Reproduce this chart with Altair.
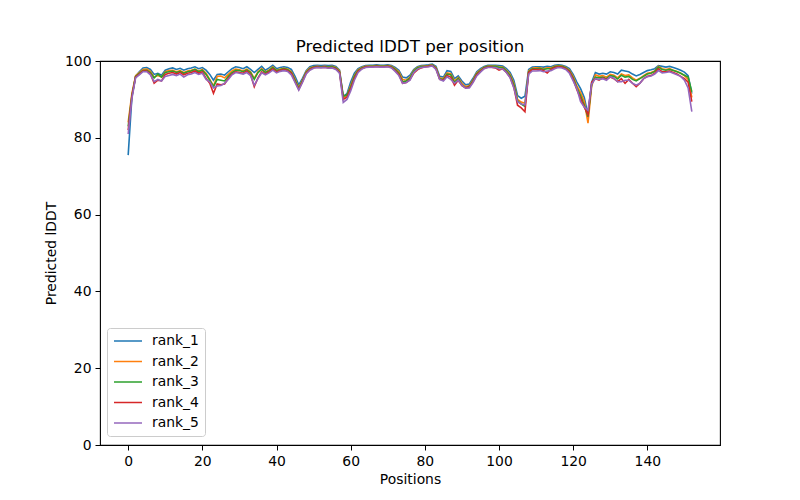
import altair as alt
import pandas as pd

positions = list(range(153))

rank_1 = [75.5, 90.5, 96.0, 97.2, 98.2, 98.3, 97.8, 96.5, 96.8, 96.3,
          97.6, 98.0, 98.2, 97.8, 98.1, 97.6, 98.0, 98.2, 98.5, 98.0,
          98.3, 97.6, 96.5, 95.0, 96.5, 96.6, 96.3, 97.2, 98.0, 98.5,
          98.3, 98.0, 98.5, 97.8, 97.0, 97.8, 98.6, 97.6, 98.2, 98.9,
          98.0, 98.3, 98.5, 98.3, 97.8, 96.0, 93.8, 95.5, 97.5, 98.5,
          98.8, 98.9, 98.8, 98.9, 98.8, 98.9, 98.6, 97.6, 90.8, 91.5,
          94.5, 96.8, 98.0, 98.5, 98.8, 98.9, 98.9, 99.0, 98.9, 98.9,
          99.0, 98.8, 98.3, 97.6, 95.8, 95.6, 96.3, 97.8, 98.5, 98.8,
          98.9, 99.0, 99.2, 98.6, 96.0, 95.8, 97.5, 97.3, 95.4, 96.1,
          94.8, 93.8, 94.0, 95.5, 97.2, 98.0, 98.6, 98.9, 98.9, 98.9,
          98.8, 98.7, 98.0, 97.0, 95.0, 91.0, 90.3, 90.8, 97.8, 98.4,
          98.5, 98.5, 98.4, 98.6, 98.5, 98.9, 99.0, 98.9, 98.6, 98.0,
          96.5, 94.5, 92.8, 90.5, 86.0, 94.5, 97.0, 96.6, 96.8, 96.6,
          97.2, 97.0, 96.6, 97.6, 97.4, 97.2, 96.6, 96.1, 96.5, 97.0,
          97.5, 97.7, 98.0, 98.8, 98.6, 98.4, 98.6, 98.3, 98.0, 97.6,
          97.1, 96.2, 91.5]

rank_2 = [84.0, 91.5, 96.2, 97.0, 97.8, 97.9, 97.3, 95.8, 96.2, 95.8,
          97.2, 97.5, 97.6, 97.2, 97.5, 97.0, 97.4, 97.6, 97.9, 97.4,
          97.8, 96.8, 95.2, 93.5, 96.0, 96.1, 95.6, 96.5, 97.4, 97.9,
          97.7, 97.4, 97.9, 97.2, 95.5, 97.2, 98.0, 97.1, 97.7, 98.5,
          97.6, 97.9, 98.1, 97.9, 97.2, 95.3, 93.0, 95.0, 97.2, 98.2,
          98.5, 98.6, 98.5, 98.6, 98.5, 98.6, 98.3, 97.4, 90.3, 91.0,
          93.6, 96.2, 97.7, 98.3, 98.6, 98.7, 98.7, 98.8, 98.7, 98.7,
          98.8, 98.6, 98.0, 97.2, 95.2, 95.0, 95.8, 97.5, 98.3, 98.6,
          98.7, 98.8, 99.0, 98.3, 95.6, 95.4, 96.9, 96.7, 94.8, 95.7,
          94.2, 93.3, 93.6, 95.1, 96.9, 97.7, 98.4, 98.7, 98.7, 98.7,
          98.5, 98.4, 97.6, 96.5, 94.2, 90.0, 89.3, 89.0, 97.4, 98.1,
          98.2, 98.2, 98.0, 98.2, 98.2, 98.6, 98.8, 98.7, 98.3, 97.6,
          96.0, 93.5, 91.8, 89.5, 83.8, 93.5, 96.4, 96.0, 96.2, 95.8,
          96.5, 96.3, 95.6, 96.6, 96.2, 96.4, 95.6, 95.0, 95.5, 96.2,
          96.8, 97.0, 97.4, 98.6, 98.0, 97.8, 98.0, 97.6, 97.3, 96.8,
          96.2, 95.2, 90.5]

rank_3 = [83.0, 91.0, 96.0, 96.8, 97.5, 97.6, 97.0, 95.6, 96.6, 95.8,
          97.0, 97.2, 97.4, 97.0, 97.3, 96.8, 97.2, 97.4, 97.8, 97.2,
          97.6, 96.5, 95.0, 93.3, 95.2, 95.0, 94.8, 96.0, 97.0, 97.6,
          97.5, 97.2, 97.7, 97.0, 95.2, 97.0, 97.8, 97.0, 97.5, 98.3,
          97.5, 97.7, 98.0, 97.7, 97.0, 95.0, 92.8, 94.8, 97.0, 98.0,
          98.4, 98.5, 98.4, 98.5, 98.4, 98.5, 98.2, 97.2, 90.8, 91.2,
          93.2, 96.0, 97.5, 98.2, 98.5, 98.6, 98.6, 98.7, 98.6, 98.6,
          98.7, 98.5, 97.8, 96.8, 94.6, 94.8, 95.6, 97.3, 98.2, 98.5,
          98.6, 98.7, 98.9, 98.2, 95.4, 95.2, 96.6, 96.4, 94.4, 95.5,
          93.8, 93.0, 93.4, 94.9, 96.7, 97.5, 98.3, 98.6, 98.6, 98.6,
          98.3, 98.3, 97.4, 96.2, 93.8, 89.6, 88.8, 88.2, 97.2, 98.0,
          98.0, 98.1, 97.8, 98.0, 98.0, 98.5, 98.7, 98.6, 98.2, 97.4,
          95.6, 93.0, 91.0, 88.5, 85.5, 94.0, 95.8, 95.6, 95.8, 95.4,
          96.2, 96.0, 95.3, 96.3, 95.8, 96.0, 95.2, 94.8, 95.4, 96.0,
          96.6, 96.8, 97.3, 98.4, 97.8, 97.6, 97.8, 97.5, 97.2, 96.8,
          96.3, 95.8, 92.0]

rank_4 = [82.0, 90.8, 95.8, 96.6, 97.4, 97.4, 96.6, 94.2, 95.0, 94.8,
          96.5, 96.8, 97.0, 96.6, 97.0, 96.4, 96.8, 97.0, 97.4, 96.8,
          97.2, 95.5, 94.2, 91.6, 94.0, 93.8, 94.0, 95.5, 96.6, 97.2,
          97.0, 96.8, 97.4, 96.5, 93.3, 95.6, 97.2, 96.6, 97.2, 98.0,
          97.2, 97.5, 97.8, 97.5, 96.8, 94.6, 92.6, 94.6, 96.8, 97.8,
          98.3, 98.4, 98.3, 98.4, 98.2, 98.3, 98.0, 97.0, 90.0, 90.6,
          92.8, 95.5, 97.3, 98.0, 98.4, 98.5, 98.5, 98.6, 98.5, 98.5,
          98.6, 98.3, 97.5, 96.5, 94.2, 94.4, 95.2, 96.8, 97.7, 98.2,
          98.5, 98.6, 98.8, 98.0, 95.2, 95.0, 96.2, 95.8, 93.7, 95.0,
          93.6, 93.0, 93.2, 94.6, 96.4, 97.3, 98.1, 98.4, 98.4, 98.2,
          97.6, 98.0, 97.0, 95.8, 93.2, 88.5, 87.8, 86.8, 97.0, 97.8,
          97.8, 97.8, 97.5, 96.9, 97.8, 98.3, 98.5, 98.4, 98.0, 97.2,
          95.2, 92.5, 90.3, 88.0, 86.0, 94.5, 95.4, 95.0, 95.6, 95.2,
          95.8, 95.4, 94.6, 95.4, 94.2, 95.2, 94.2, 93.3, 94.2, 95.4,
          96.0, 96.2, 96.8, 98.0, 97.2, 97.2, 97.4, 97.0, 96.6, 96.0,
          95.4, 94.5, 89.4]

rank_5 = [81.0, 90.2, 95.6, 96.4, 97.2, 97.2, 96.4, 94.6, 95.2, 94.8,
          96.0, 96.2, 96.5, 96.2, 96.6, 95.8, 96.4, 96.6, 97.0, 96.5,
          96.8, 95.2, 94.6, 93.0, 93.5, 93.6, 94.2, 95.2, 96.4, 97.0,
          96.8, 96.6, 97.0, 96.2, 93.7, 95.4, 96.9, 96.4, 96.9, 97.6,
          96.9, 97.3, 97.5, 97.3, 96.4, 94.4, 92.4, 94.4, 96.6, 97.6,
          98.1, 98.3, 98.2, 98.3, 98.1, 98.2, 97.8, 96.8, 89.2, 90.0,
          92.2, 95.0, 97.0, 97.9, 98.3, 98.4, 98.4, 98.5, 98.4, 98.4,
          98.5, 98.2, 97.3, 96.2, 94.2, 94.4, 95.0, 97.0, 97.9, 98.3,
          98.4, 98.5, 98.7, 97.8, 95.2, 94.8, 95.9, 95.2, 94.2, 95.0,
          93.7, 92.9, 93.0, 94.4, 96.1, 97.1, 98.0, 98.3, 98.3, 98.3,
          98.0, 97.9, 97.0, 95.6, 93.0, 89.4, 88.8, 88.6, 96.6, 97.4,
          97.4, 97.5, 97.2, 97.4, 97.5, 98.0, 98.3, 98.2, 97.8, 96.8,
          94.8, 92.8, 89.4, 88.0, 87.2, 94.0, 95.4, 95.2, 95.4, 95.0,
          95.9, 95.5, 94.6, 94.6, 95.0, 95.0, 94.2, 93.7, 94.2, 95.4,
          95.9, 96.1, 96.6, 97.5, 96.9, 97.0, 97.2, 96.8, 96.4, 96.0,
          95.0, 93.0, 86.8]

series_names = ["rank_1", "rank_2", "rank_3", "rank_4", "rank_5"]
series_values = [rank_1, rank_2, rank_3, rank_4, rank_5]
palette = ["#1f77b4", "#ff7f0e", "#2ca02c", "#d62728", "#9467bd"]

rows = []
for name, vals in zip(series_names, series_values):
    for p, v in zip(positions, vals):
        rows.append({"Position": p, "lDDT": v, "model": name})
df = pd.DataFrame(rows)

FONT = "DejaVu Sans"

chart = (
    alt.Chart(df)
    .mark_line(strokeWidth=1.6, clip=True)
    .encode(
        x=alt.X(
            "Position:Q",
            scale=alt.Scale(domain=[-7.6, 159.6], nice=False, zero=False),
            axis=alt.Axis(
                title="Positions",
                values=[0, 20, 40, 60, 80, 100, 120, 140],
                format="d",
                grid=False,
                domain=False,
                tickColor="black",
                tickSize=5,
                tickWidth=1,
                labelPadding=4,
                labelColor="black",
                labelFont=FONT,
                labelFontSize=13.9,
                titleFont=FONT,
                titleFontSize=13.9,
                titleFontWeight="normal",
                titleColor="black",
                titlePadding=5,
                labelFlush=False,
            ),
        ),
        y=alt.Y(
            "lDDT:Q",
            scale=alt.Scale(domain=[0, 100], nice=False),
            axis=alt.Axis(
                title="Predicted lDDT",
                values=[0, 20, 40, 60, 80, 100],
                grid=False,
                domain=False,
                tickColor="black",
                tickSize=5,
                tickWidth=1,
                labelPadding=4,
                labelColor="black",
                labelFont=FONT,
                labelFontSize=13.9,
                titleFont=FONT,
                titleFontSize=13.9,
                titleFontWeight="normal",
                titleColor="black",
                titlePadding=6,
                labelFlush=False,
            ),
        ),
        color=alt.Color(
            "model:N",
            scale=alt.Scale(domain=series_names, range=palette),
            legend=alt.Legend(
                title=None,
                orient="none",
                legendX=7,
                legendY=267,
                symbolType="stroke",
                symbolSize=784,
                symbolStrokeWidth=1.6,
                clipHeight=14,
                labelFont=FONT,
                labelFontSize=13.9,
                labelColor="black",
                labelOffset=9,
                rowPadding=6.5,
                padding=6,
                strokeColor="#cccccc",
                fillColor="rgba(255,255,255,0.8)",
                cornerRadius=3,
            ),
        ),
    )
    .properties(
        width=620,
        height=384,
        title=alt.TitleParams(
            "Predicted lDDT per position",
            font=FONT,
            fontSize=16.7,
            fontWeight="normal",
            color="black",
            anchor="middle",
            offset=-2,
        ),
        autosize=alt.AutoSizeParams(type="none"),
        padding={"left": 92, "top": 53, "right": 72, "bottom": 47},
    )
    .configure_view(stroke="black", strokeWidth=1.1)
)

chart.save("out.html", embed_options={"renderer": "svg", "actions": False})
